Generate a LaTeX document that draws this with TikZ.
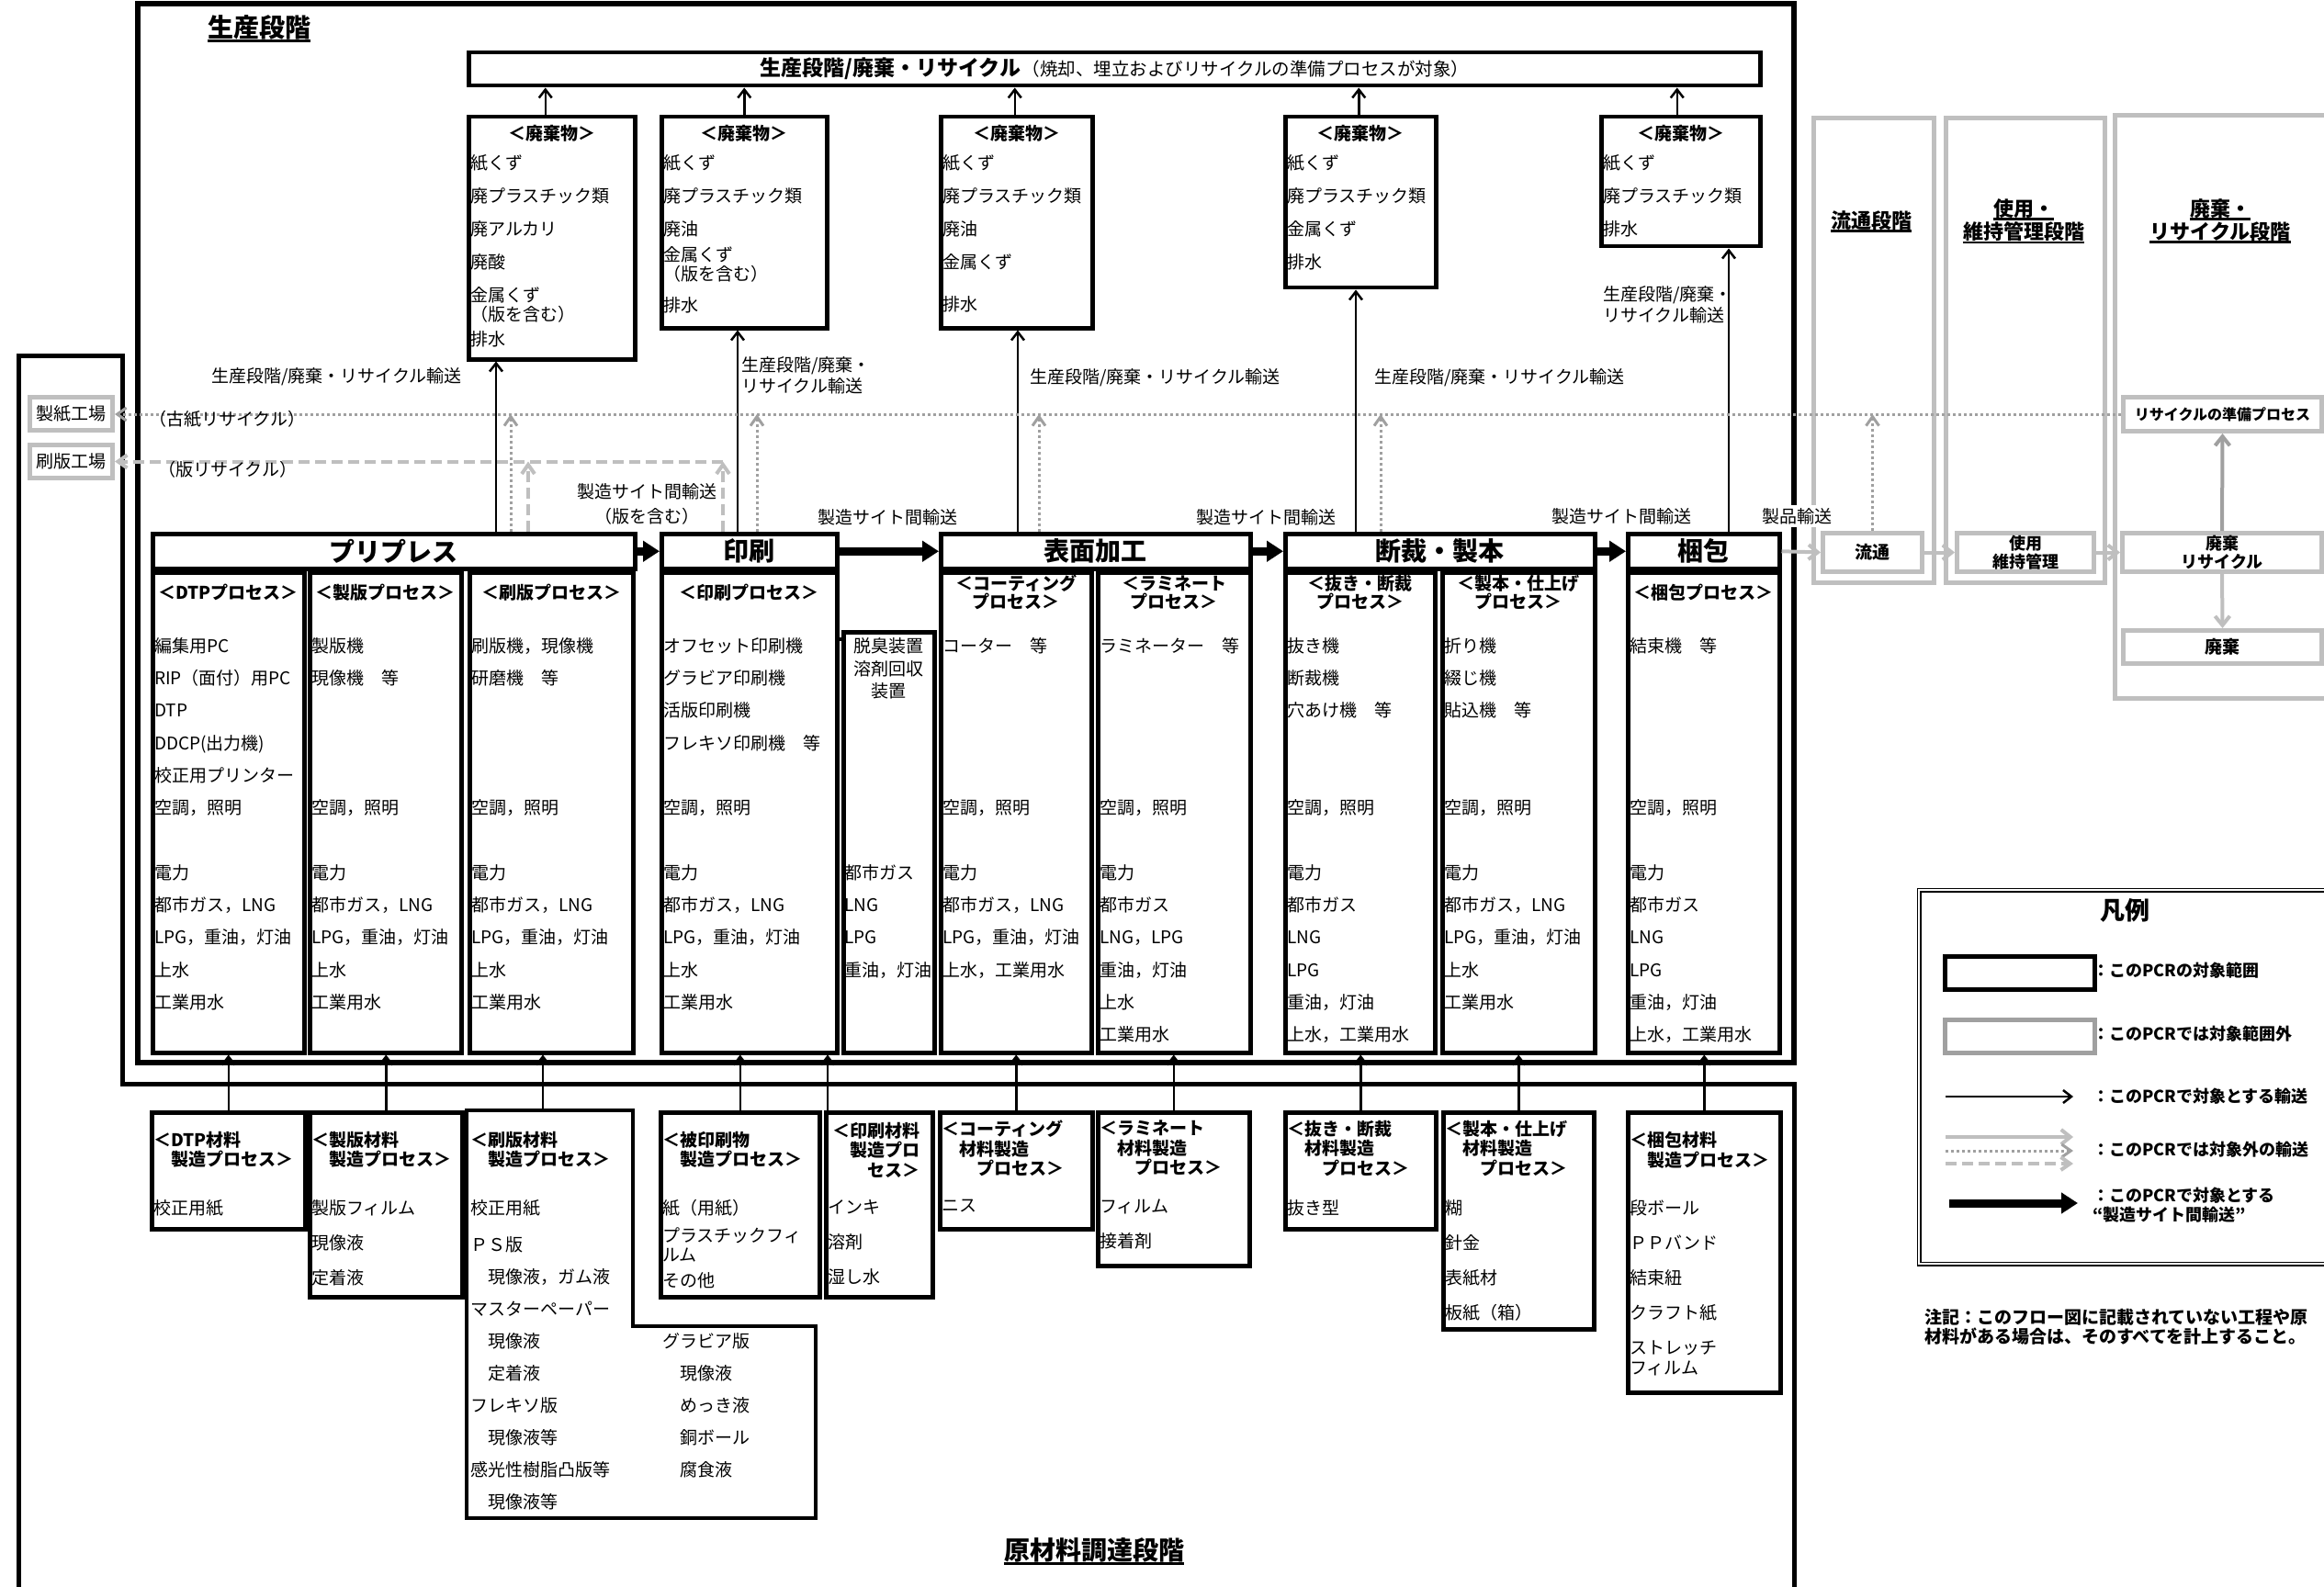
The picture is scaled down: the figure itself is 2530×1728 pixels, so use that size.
\documentclass[tikz,border=0pt]{standalone}
\usepackage{fontspec}
\setmainfont{Noto Sans CJK JP}
\usepackage{tikz}
\usetikzlibrary{arrows.meta,calc}
\definecolor{pcrGray}{RGB}{191,191,191}
\definecolor{pcrDot}{RGB}{160,160,160}
\newcommand{\emptyrow}{\mbox{}}

\begin{document}
\begin{tikzpicture}[x=1pt,y=-1pt,
    box/.style={draw, line width=4.5pt, inner sep=0pt, anchor=north west},
    gbox/.style={draw=pcrGray, line width=5pt, inner sep=0pt, anchor=north west},
    big/.style={font=\fontsize{28}{30}\selectfont\bfseries},
    hd/.style={font=\fontsize{19}{20}\selectfont\bfseries, align=center, inner sep=0pt},
    mhd/.style={font=\fontsize{19}{21.5}\selectfont\bfseries, align=left, inner sep=0pt, anchor=north west},
    items/.style={font=\fontsize{19}{35.3}\selectfont, align=left, inner sep=0pt, anchor=north west},
    wst/.style={items, font=\fontsize{19}{36}\selectfont},
    mat/.style={items, font=\fontsize{19}{38}\selectfont},
    lbl/.style={font=\fontsize{19}{23}\selectfont, align=left, inner sep=0pt},
    gtxt/.style={font=\fontsize{19}{21}\selectfont\bfseries, align=center},
    stg/.style={font=\fontsize{22}{25}\selectfont\bfseries, inner sep=0pt},
    lgd/.style={font=\fontsize{18}{21}\selectfont\bfseries, align=left, inner sep=0pt, anchor=west},
    arr/.style={-{Straight Barb[length=9pt,width=14pt]}, line width=2.5pt},
    fat/.style={-{Triangle[length=18pt,width=22pt]}, line width=9pt},
    garr/.style={-{Straight Barb[length=10pt,width=16pt]}, pcrGray, line width=4pt},
    dotarr/.style={-{Straight Barb[length=10pt,width=14pt]}, pcrDot, line width=3pt, dash pattern=on 3pt off 3pt},
    dasharr/.style={-{Straight Barb[length=10pt,width=14pt]}, pcrGray, line width=4pt, dash pattern=on 12pt off 6pt}
  ]
  \useasboundingbox (0,0) rectangle (2530,1728);

  % stage frames
  \draw[line width=6pt] (150,4) rectangle (1953,1157);
  \draw[line width=5pt] (20,1728) -- (20,387) -- (133,387) -- (133,1180) -- (1953,1180) -- (1953,1728);
  \node[big, anchor=west, inner sep=0pt] (tprod) at (226,30) {生産段階};
  \node[big, inner sep=0pt] (tmat) at (1191,1688) {原材料調達段階};

  % waste / recycling bar
  \node[box, minimum width=1406, minimum height=36] (bar) at (508,55)
    {{\fontsize{23}{25}\selectfont\bfseries 生産段階/廃棄・リサイクル}\,{\fontsize{19.5}{21}\selectfont （焼却、埋立およびリサイクルの準備プロセスが対象）}};

  % waste boxes
  \node[box, minimum width=181, minimum height=264] (w1) at (508,125) {};
  \node[box, minimum width=180, minimum height=230] (w2) at (718,125) {};
  \node[box, minimum width=165, minimum height=230] (w3) at (1022,125) {};
  \node[box, minimum width=164, minimum height=186] (w4) at (1397,125) {};
  \node[box, minimum width=173, minimum height=141] (w5) at (1741,125) {};
  \foreach \w in {w1,w2,w3,w4,w5}
    \node[hd] (\w h) at ([yshift=-20pt]\w.north) {＜廃棄物＞};
  \node[wst] (w1t) at ([xshift=4pt,yshift=-43pt]w1.north west)
    {紙くず\\廃プラスチック類\\廃アルカリ\\廃酸\\金属くず\\[-15pt]（版を含む）\\[-9pt]排水};
  \node[wst] (w2t) at ([xshift=4pt,yshift=-43pt]w2.north west)
    {紙くず\\廃プラスチック類\\廃油\\[-8pt]金属くず\\[-15pt]（版を含む）\\[-2pt]排水};
  \node[wst] (w3t) at ([xshift=4pt,yshift=-43pt]w3.north west)
    {紙くず\\廃プラスチック類\\廃油\\金属くず\\[10pt]排水};
  \node[wst] (w4t) at ([xshift=4pt,yshift=-43pt]w4.north west)
    {紙くず\\廃プラスチック類\\金属くず\\排水};
  \node[wst] (w5t) at ([xshift=4pt,yshift=-43pt]w5.north west)
    {紙くず\\廃プラスチック類\\排水};
  \foreach \w/\dx in {w1/-7,w2/0,w3/-2,w4/-2,w5/-4}
    \draw[arr] ([xshift=\dx pt]\w.north) -- ([xshift=\dx pt]\w.north |- bar.south);

  % process headers
  \node[box, big, minimum width=525, minimum height=38] (pp) at (164,579) {プリプレス};
  \node[box, big, minimum width=191, minimum height=38] (prt) at (718,579) {印刷};
  \node[box, big, minimum width=337, minimum height=38] (sf) at (1022,579) {表面加工};
  \node[box, big, minimum width=337, minimum height=38] (cb) at (1397,579) {断裁・製本};
  \node[box, big, minimum width=165, minimum height=38] (pk) at (1770,579) {梱包};
  \draw[fat] (pp.east) -- (prt.west);
  \draw[fat] (prt.east) -- (sf.west);
  \draw[fat] (sf.east) -- (cb.west);
  \draw[fat] (cb.east) -- (pk.west);

  % process columns
  \node[box, minimum width=165, minimum height=523] (dtp) at (164,621) {};
  \node[box, minimum width=165, minimum height=523] (spb) at (335,621) {};
  \node[box, minimum width=178, minimum height=523] (srb) at (509,621) {};
  \node[box, minimum width=191, minimum height=523] (prtc) at (718,621) {};
  \node[box, minimum width=99, minimum height=458] (dsh) at (916,686) {};
  \node[box, minimum width=164, minimum height=523] (ct) at (1022,621) {};
  \node[box, minimum width=166, minimum height=523] (lm) at (1193,621) {};
  \node[box, minimum width=163, minimum height=523] (nk) at (1397,621) {};
  \node[box, minimum width=166, minimum height=523] (sbn) at (1568,621) {};
  \node[box, minimum width=165, minimum height=523] (pkc) at (1770,621) {};
  \draw[line width=4pt] ([yshift=-10pt]dsh.north west) -- ([yshift=-10pt]dsh.north west -| prtc.east);

  \node[hd] (dtph) at ([yshift=-24pt]dtp.north) {＜DTPプロセス＞};
  \node[hd] (spbh) at ([yshift=-24pt]spb.north) {＜製版プロセス＞};
  \node[hd] (srbh) at ([yshift=-24pt]srb.north) {＜刷版プロセス＞};
  \node[hd] (prth) at ([yshift=-24pt]prtc.north) {＜印刷プロセス＞};
  \node[hd] (cth) at ([yshift=-24pt]ct.north) {＜コーティング\\プロセス＞};
  \node[hd] (lmh) at ([yshift=-24pt]lm.north) {＜ラミネート\\プロセス＞};
  \node[hd] (nkh) at ([yshift=-24pt]nk.north) {＜抜き・断裁\\プロセス＞};
  \node[hd] (sbnh) at ([yshift=-24pt]sbn.north) {＜製本・仕上げ\\プロセス＞};
  \node[hd] (pkh) at ([yshift=-24pt]pkc.north) {＜梱包プロセス＞};

  \node[items] (dtpt) at ([xshift=4pt,yshift=-73pt]dtp.north west)
    {編集用PC\\RIP（面付）用PC\\DTP\\DDCP(出力機)\\校正用プリンター\\空調，照明\\\emptyrow\\電力\\都市ガス，LNG\\LPG，重油，灯油\\上水\\工業用水};
  \node[items] (spbt) at ([xshift=4pt,yshift=-73pt]spb.north west)
    {製版機\\現像機　等\\\emptyrow\\\emptyrow\\\emptyrow\\空調，照明\\\emptyrow\\電力\\都市ガス，LNG\\LPG，重油，灯油\\上水\\工業用水};
  \node[items] (srbt) at ([xshift=4pt,yshift=-73pt]srb.north west)
    {刷版機，現像機\\研磨機　等\\\emptyrow\\\emptyrow\\\emptyrow\\空調，照明\\\emptyrow\\電力\\都市ガス，LNG\\LPG，重油，灯油\\上水\\工業用水};
  \node[items] (prtt) at ([xshift=4pt,yshift=-73pt]prtc.north west)
    {オフセット印刷機\\グラビア印刷機\\活版印刷機\\フレキソ印刷機　等\\\emptyrow\\空調，照明\\\emptyrow\\電力\\都市ガス，LNG\\LPG，重油，灯油\\上水\\工業用水};
  \node[font=\fontsize{19}{24.5}\selectfont, align=center, inner sep=0pt] (dsht) at ([yshift=-42pt]dsh.north)
    {脱臭装置\\溶剤回収\\装置};
  \node[items] (dshu) at ([xshift=3pt,yshift=-255pt]dsh.north west)
    {都市ガス\\LNG\\LPG\\重油，灯油};
  \node[items] (ctt) at ([xshift=4pt,yshift=-73pt]ct.north west)
    {コーター　等\\\emptyrow\\\emptyrow\\\emptyrow\\\emptyrow\\空調，照明\\\emptyrow\\電力\\都市ガス，LNG\\LPG，重油，灯油\\上水，工業用水};
  \node[items] (lmt) at ([xshift=4pt,yshift=-73pt]lm.north west)
    {ラミネーター　等\\\emptyrow\\\emptyrow\\\emptyrow\\\emptyrow\\空調，照明\\\emptyrow\\電力\\都市ガス\\LNG，LPG\\重油，灯油\\上水\\工業用水};
  \node[items] (nkt) at ([xshift=4pt,yshift=-73pt]nk.north west)
    {抜き機\\断裁機\\穴あけ機　等\\\emptyrow\\\emptyrow\\空調，照明\\\emptyrow\\電力\\都市ガス\\LNG\\LPG\\重油，灯油\\上水，工業用水};
  \node[items] (sbnt) at ([xshift=4pt,yshift=-73pt]sbn.north west)
    {折り機\\綴じ機\\貼込機　等\\\emptyrow\\\emptyrow\\空調，照明\\\emptyrow\\電力\\都市ガス，LNG\\LPG，重油，灯油\\上水\\工業用水};
  \node[items] (pkt) at ([xshift=4pt,yshift=-73pt]pkc.north west)
    {結束機　等\\\emptyrow\\\emptyrow\\\emptyrow\\\emptyrow\\空調，照明\\\emptyrow\\電力\\都市ガス\\LNG\\LPG\\重油，灯油\\上水，工業用水};

  % outside plants
  \node[gbox, font=\fontsize{19}{21}\selectfont, minimum width=90, minimum height=36] (sp) at (30,430) {製紙工場};
  \node[gbox, font=\fontsize{19}{21}\selectfont, minimum width=90, minimum height=36] (sb) at (30,482) {刷版工場};

  % downstream stages
  \node[gbox, minimum width=131, minimum height=506] (ds) at (1972,126) {};
  \node[gbox, minimum width=173, minimum height=506] (us) at (2116,126) {};
  \draw[pcrGray, line width=5pt] (2530,126) -- (2302,126) -- (2302,760) -- (2530,760);
  \node[stg] (dst) at (2037,240) {流通段階};
  \node[stg] (ust1) at (2203,227) {使用・};
  \node[stg] (ust2) at (2203,252) {維持管理段階};
  \node[stg] (rst1) at (2417,227) {廃棄・};
  \node[stg] (rst2) at (2417,252) {リサイクル段階};
  \foreach \t in {tprod,tmat,dst,ust1,ust2,rst1,rst2}
    \draw[line width=2.5pt] ([yshift=-1pt]\t.south west) -- ([yshift=-1pt]\t.south east);
  \node[gbox, gtxt, minimum width=108, minimum height=42] (dist) at (1982,578) {流通};
  \node[gbox, gtxt, font=\fontsize{18}{20}\selectfont\bfseries, minimum width=149, minimum height=42] (use) at (2128,578) {使用\\維持管理};
  \node[gbox, gtxt, font=\fontsize{18}{20}\selectfont\bfseries, minimum width=217, minimum height=42] (dr) at (2308,578) {廃棄\\リサイクル};
  \node[gbox, gtxt, font=\fontsize{16}{18}\selectfont\bfseries, minimum width=216, minimum height=37] (rp) at (2309,430) {リサイクルの準備プロセス};
  \node[gbox, gtxt, minimum width=216, minimum height=36] (hk) at (2309,684) {廃棄};
  \draw[garr] (pk.east) -- (dist.west);
  \draw[garr] (dist.east) -- (use.west);
  \draw[garr] (use.east) -- (dr.west);
  \draw[garr, pcrDot] (dr.north) -- (rp.south);
  \draw[garr] (dr.south) -- (hk.north);

  % transport to waste boxes
  \coordinate (wa1) at ([xshift=376pt]pp.north west);
  \coordinate (wa2) at ([xshift=85pt]prt.north west);
  \coordinate (wa3) at ([xshift=86pt]sf.north west);
  \coordinate (wa4) at ([xshift=79pt]cb.north west);
  \coordinate (wa5) at ([xshift=112pt]pk.north west);
  \draw[arr] (wa1) -- (wa1 |- w1.south);
  \draw[arr] (wa2) -- (wa2 |- w2.south);
  \draw[arr] (wa3) -- (wa3 |- w3.south);
  \draw[arr] (wa4) -- (wa4 |- w4.south);
  \draw[arr] (wa5) -- (wa5 |- w5.south);

  % recycling paths (out of scope)
  \draw[dotarr] (rp.west) -- (rp.west -| sp.east);
  \coordinate (dt1) at ([xshift=392pt]pp.north west);
  \coordinate (dt2) at ([xshift=106pt]prt.north west);
  \coordinate (dt3) at ([xshift=109pt]sf.north west);
  \coordinate (dt4) at ([xshift=106pt]cb.north west);
  \draw[dotarr] (dt1) -- (dt1 |- rp.west);
  \draw[dotarr] (dt2) -- (dt2 |- rp.west);
  \draw[dotarr] (dt3) -- (dt3 |- rp.west);
  \draw[dotarr] (dt4) -- (dt4 |- rp.west);
  \draw[dotarr] (dist.north) -- (dist.north |- rp.west);
  \coordinate (ds1) at ([xshift=411pt]pp.north west);
  \coordinate (ds2) at ([xshift=69pt]prt.north west);
  \draw[dasharr] (ds1) -- (ds1 |- sb.east);
  \draw[dasharr] (ds2) -- (ds2 |- sb.east);
  \draw[dasharr] (ds2 |- sb.east) -- (sb.east);

  % transport labels
  \node[lbl, anchor=east] (l1) at (503,410) {生産段階/廃棄・リサイクル輸送};
  \node[lbl, anchor=west] (l2) at (807,409) {生産段階/廃棄・\\リサイクル輸送};
  \node[lbl, anchor=west] (l3) at (1121,411) {生産段階/廃棄・リサイクル輸送};
  \node[lbl, anchor=west] (l4) at (1496,411) {生産段階/廃棄・リサイクル輸送};
  \node[lbl, anchor=west] (l5) at (1745,332) {生産段階/廃棄・\\リサイクル輸送};
  \node[lbl, anchor=west] (l6) at (162,456) {（古紙リサイクル）};
  \node[lbl, anchor=west] (l7) at (172,511) {（版リサイクル）};
  \node[lbl, align=center, font=\fontsize{19}{27}\selectfont] (l8) at (704,549) {製造サイト間輸送\\（版を含む）};
  \node[lbl] (l9) at (966,563) {製造サイト間輸送};
  \node[lbl] (l10) at (1378,563) {製造サイト間輸送};
  \node[lbl] (l11) at (1765,562) {製造サイト間輸送};
  \node[lbl, fill=white, inner sep=3pt] (l12) at (1956,562) {製品輸送};

  % raw material boxes
  \node[box, minimum width=167, minimum height=127] (m1) at (163,1209) {};
  \node[box, minimum width=166, minimum height=201] (m2) at (335,1209) {};
  \draw[line width=4.5pt] (508,1209) -- (689,1209) -- (689,1444) -- (888,1444) -- (888,1653) -- (508,1653) -- cycle;
  \coordinate (m3) at (508,1209);
  \node[box, minimum width=173, minimum height=201] (m4) at (717,1209) {};
  \node[box, minimum width=116, minimum height=201] (m5) at (897,1209) {};
  \node[box, minimum width=166, minimum height=127] (m6) at (1021,1209) {};
  \node[box, minimum width=165, minimum height=167] (m7) at (1193,1209) {};
  \node[box, minimum width=164, minimum height=127] (m8) at (1397,1209) {};
  \node[box, minimum width=164, minimum height=236] (m9) at (1569,1209) {};
  \node[box, minimum width=166, minimum height=305] (m10) at (1770,1209) {};

  \node[mhd] (m1h) at ([xshift=4pt,yshift=-23pt]m1.north west) {＜DTP材料\\　製造プロセス＞};
  \node[mhd] (m2h) at ([xshift=4pt,yshift=-23pt]m2.north west) {＜製版材料\\　製造プロセス＞};
  \node[mhd] (m3h) at ([xshift=4pt,yshift=-23pt]m3) {＜刷版材料\\　製造プロセス＞};
  \node[mhd] (m4h) at ([xshift=4pt,yshift=-23pt]m4.north west) {＜被印刷物\\　製造プロセス＞};
  \node[mhd, align=right, anchor=north east] (m5h) at ([xshift=-16pt,yshift=-13pt]m5.north east) {＜印刷材料\\製造プロ\\セス＞};
  \node[mhd] (m6h) at ([xshift=4pt,yshift=-11pt]m6.north west) {＜コーティング\\　材料製造\\　　プロセス＞};
  \node[mhd] (m7h) at ([xshift=4pt,yshift=-11pt]m7.north west) {＜ラミネート\\　材料製造\\　　プロセス＞};
  \node[mhd] (m8h) at ([xshift=4pt,yshift=-11pt]m8.north west) {＜抜き・断裁\\　材料製造\\　　プロセス＞};
  \node[mhd] (m9h) at ([xshift=4pt,yshift=-11pt]m9.north west) {＜製本・仕上げ\\　材料製造\\　　プロセス＞};
  \node[mhd] (m10h) at ([xshift=4pt,yshift=-23pt]m10.north west) {＜梱包材料\\　製造プロセス＞};

  \node[mat] (m1t) at ([xshift=4pt,yshift=-97pt]m1.north west) {校正用紙};
  \node[mat] (m2t) at ([xshift=4pt,yshift=-97pt]m2.north west) {製版フィルム\\現像液\\定着液};
  \node[items, font=\fontsize{19}{35}\selectfont] (m3t) at ([xshift=4pt,yshift=-97pt]m3)
    {校正用紙\\[5pt]ＰＳ版\\　現像液，ガム液\\マスターペーパー\\　現像液\\　定着液\\フレキソ版\\　現像液等\\感光性樹脂凸版等\\　現像液等};
  \node[items, font=\fontsize{19}{35}\selectfont] (m3u) at (721,1451)
    {グラビア版\\　現像液\\　めっき液\\　銅ボール\\　腐食液};
  \node[mat] (m4t) at ([xshift=4pt,yshift=-97pt]m4.north west) {紙（用紙）\\[-8pt]プラスチックフィ\\[-17pt]ルム\\[-10pt]その他};
  \node[mat] (m5t) at ([xshift=4pt,yshift=-97pt]m5.north west) {インキ\\溶剤\\湿し水};
  \node[mat] (m6t) at ([xshift=4pt,yshift=-97pt]m6.north west) {ニス};
  \node[mat] (m7t) at ([xshift=4pt,yshift=-97pt]m7.north west) {フィルム\\接着剤};
  \node[mat] (m8t) at ([xshift=4pt,yshift=-97pt]m8.north west) {抜き型};
  \node[mat] (m9t) at ([xshift=4pt,yshift=-97pt]m9.north west) {糊\\針金\\表紙材\\板紙（箱）};
  \node[mat] (m10t) at ([xshift=4pt,yshift=-97pt]m10.north west) {段ボール\\ＰＰバンド\\結束紐\\クラフト紙\\ストレッチ\\[-16pt]フィルム};

  % material inputs
  \coordinate (m3in) at ([xshift=83pt]m3);
  \coordinate (m5in) at ([xshift=4pt]m5.north west);
  \draw[arr] (m1.north) -- (m1.north |- dtp.south);
  \draw[arr] (m2.north) -- (m2.north |- spb.south);
  \draw[arr] (m3in) -- (m3in |- srb.south);
  \draw[arr] (m4.north) -- (m4.north |- prtc.south);
  \draw[arr] (m5in) -- (m5in |- prtc.south);
  \draw[arr] (m6.north) -- (m6.north |- ct.south);
  \draw[arr] (m7.north) -- (m7.north |- lm.south);
  \draw[arr] (m8.north) -- (m8.north |- nk.south);
  \draw[arr] (m9.north) -- (m9.north |- sbn.south);
  \draw[arr] (m10.north) -- (m10.north |- pkc.south);

  % legend
  \draw[line width=1.5pt, double, double distance=2pt] (2530,969) -- (2089,969) -- (2089,1376) -- (2530,1376);
  \node[font=\fontsize{27}{29}\selectfont\bfseries] (lgt) at (2313,991) {凡例};
  \node[box, minimum width=163, minimum height=36] (lg1) at (2115,1039) {};
  \node[gbox, draw=pcrDot, minimum width=163, minimum height=36] (lg2) at (2115,1108) {};
  \draw[arr] (2118,1194) -- (2257,1194);
  \foreach \yy/\sty in {1238/garr,1253/dotarr,1267/dasharr}
    \draw[\sty] (2118,\yy) -- (2257,\yy);
  \draw[fat] (2122,1310) -- (2262,1310);
  \node[lgd] (lg1t) at (2278,1057) {：このPCRの対象範囲};
  \node[lgd] (lg2t) at (2278,1126) {：このPCRでは対象範囲外};
  \node[lgd] (lg3t) at (2278,1194) {：このPCRで対象とする輸送};
  \node[lgd] (lg4t) at (2278,1252) {：このPCRでは対象外の輸送};
  \node[lgd, anchor=north west] (lg5t) at (2278,1293) {：このPCRで対象とする\\“製造サイト間輸送”};
  \node[font=\fontsize{19}{21}\selectfont\bfseries, align=left, inner sep=0pt, anchor=north west] (note) at (2095,1425)
    {注記：このフロー図に記載されていない工程や原\\材料がある場合は、そのすべてを計上すること。};
\end{tikzpicture}
\end{document}
